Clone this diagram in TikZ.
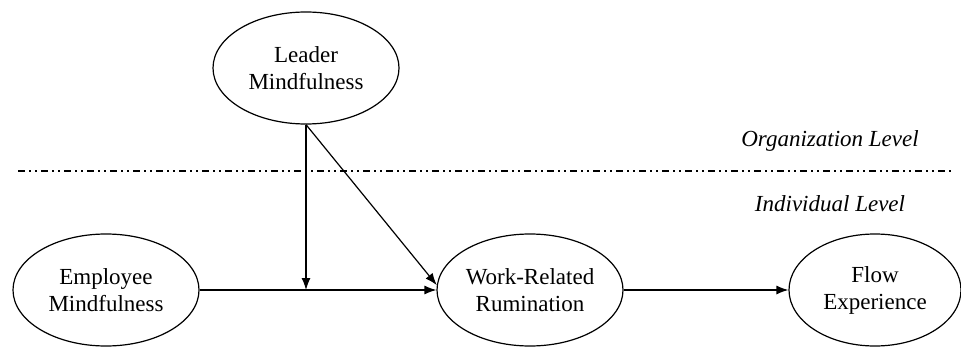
\documentclass[tikz,border=0pt]{standalone}
\usepackage{fontspec}
\setmainfont{Liberation Serif}
\usetikzlibrary{shapes.geometric,arrows.meta}

\begin{document}
\begin{tikzpicture}[x=0.5pt,y=-0.5pt,
  every node/.style={font=\fontsize{11.5pt}{13.5pt}\selectfont},
  var/.style={draw,ellipse,line width=0.6pt,inner sep=0pt,
    minimum width=93pt,minimum height=56pt,align=center},
  path/.style={line width=0.6pt,-{Latex[length=6pt,width=4.5pt]}},
  levelline/.style={line width=0.6pt,
    dash pattern=on 3.5pt off 2pt on 1pt off 2pt on 1pt off 2pt},
  level/.style={font=\fontsize{11.5pt}{13.5pt}\selectfont\itshape}]
\useasboundingbox (0,0) rectangle (961,347);

% Variables
\node[var] (leader) at (306,68) {Leader\\Mindfulness};
\node[var] (emp) at (106,290) {Employee\\Mindfulness};
\node[var] (wrr) at (530,290) {Work-Related\\Rumination};
\node[var,minimum width=86pt] (flow) at (875,290) {Flow\\Experience};

% Levels
\coordinate (lineL) at (18,171);
\coordinate (lineR) at (951,171);
\draw[levelline] (lineL) -- (lineR);
\node[level] (org) at (830,141) {Organization Level};
\node[level] (ind) at (830,204) {Individual Level};

% Paths
\coordinate (mod) at (leader.south |- emp.east);
\draw[path] (emp.east) -- (wrr.west);
\draw[path] (leader.south) -- (mod);
\draw[path] (leader.south) -- (wrr.177);
\draw[path] (wrr.east) -- (flow.west);
\end{tikzpicture}
\end{document}
